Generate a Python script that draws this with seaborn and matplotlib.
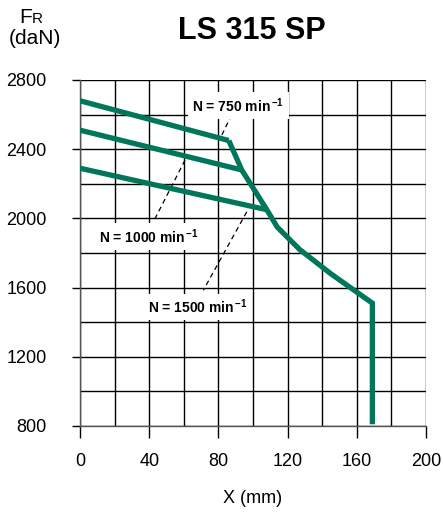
import matplotlib
matplotlib.use("Agg")
import matplotlib.pyplot as plt
import seaborn as sns
import pandas as pd

# ---- data ----
x_750 = [0, 86]
f_750 = [2680, 2450]
x_1000 = [0, 93.5]
f_1000 = [2510, 2280]
x_1500 = [0, 108]
f_1500 = [2290, 2050]
x_env = [86, 93.5, 108, 114, 127, 145, 169, 169]
f_env = [2450, 2280, 2050, 1950, 1820, 1680, 1510, 810]

dash_750 = ([82, 87], [2482, 2586])
dash_1000 = ([60.7, 42.4], [2337, 1980])
dash_1500 = ([96.4, 71.3], [2038, 1585])

labels = ["N = 750 min$^{\\,\\mathbf{-1}}$", "N = 1000 min$^{\\,\\mathbf{-1}}$", "N = 1500 min$^{\\,\\mathbf{-1}}$"]
label_pos = [(65, 2650), (11, 1893), (39.5, 1488)]

xticks = [0, 40, 80, 120, 160, 200]
yticks = [800, 1200, 1600, 2000, 2400, 2800]
title = "LS 315 SP"

sns.set_theme(style="white")
plt.rcParams['font.family'] = ['Liberation Sans', 'DejaVu Sans']
plt.rcParams['mathtext.fontset'] = 'custom'
plt.rcParams['mathtext.rm'] = 'Liberation Sans'
plt.rcParams['mathtext.bf'] = 'Liberation Sans:bold'
for k in ['text.color', 'axes.labelcolor', 'xtick.color', 'ytick.color']:
    plt.rcParams[k] = 'black'

W, H = 443, 524
fig = plt.figure(figsize=(W/100, H/100), dpi=100)
ax = fig.add_axes([80/W, 1-426/H, (426-80)/W, (426-80)/H])

green = "#00765A"
for xs, fs in [(x_750, f_750), (x_1000, f_1000), (x_1500, f_1500), (x_env, f_env)]:
    df = pd.DataFrame({"x": xs, "f": fs})
    sns.lineplot(data=df, x="x", y="f", ax=ax, color=green, lw=3.8, sort=False,
                 estimator=None, solid_capstyle="butt", solid_joinstyle="miter", zorder=5)

for xs, fs in [dash_750, dash_1000, dash_1500]:
    ax.plot(xs, fs, color="black", lw=0.9, ls=(0, (4, 3)), zorder=4)

for lab, (lx, ly) in zip(labels, label_pos):
    ax.text(lx, ly, lab, fontsize=10, fontweight="bold", ha="left", va="center",
            bbox=dict(facecolor="white", edgecolor="none", pad=3), zorder=6)

ax.set_xlim(0, 200)
ax.set_ylim(800, 2800)
ax.set_xticks(xticks)
ax.set_xticks(range(0, 201, 20), minor=True)
ax.set_yticks(yticks)
ax.set_yticks(range(800, 2801, 200), minor=True)
ax.set_xticklabels([str(v) for v in xticks])
ax.set_yticklabels([str(v) for v in yticks])
ax.grid(True, which="both", color="black", lw=1.0)
ax.set_axisbelow(True)
ax.tick_params(axis="x", which="major", direction="out", length=8.5, width=1, color="black",
               pad=11, labelsize=13, bottom=True)
ax.tick_params(axis="y", which="major", direction="out", length=6, width=1, color="black",
               pad=18, labelsize=13, left=True)
ax.tick_params(which="minor", length=0)
for s in ["top", "right"]:
    ax.spines[s].set_visible(False)
for s in ["left", "bottom"]:
    ax.spines[s].set_color("#555555")
    ax.spines[s].set_linewidth(1.0)

ax.set_xlabel("X (mm)", fontsize=13, labelpad=14)
ax.set_ylabel("")

fig.text(252/W, 1-31/H, title, fontsize=22, fontweight="bold", ha="center", va="center")
fig.text(32/W, 1-23/H, "F", fontsize=15, ha="right", va="baseline")
fig.text(32/W, 1-23/H, "R", fontsize=11, ha="left", va="baseline")
fig.text(35/W, 1-38/H, "(daN)", fontsize=15, ha="center", va="center")

fig.savefig("out.png", dpi=100)
